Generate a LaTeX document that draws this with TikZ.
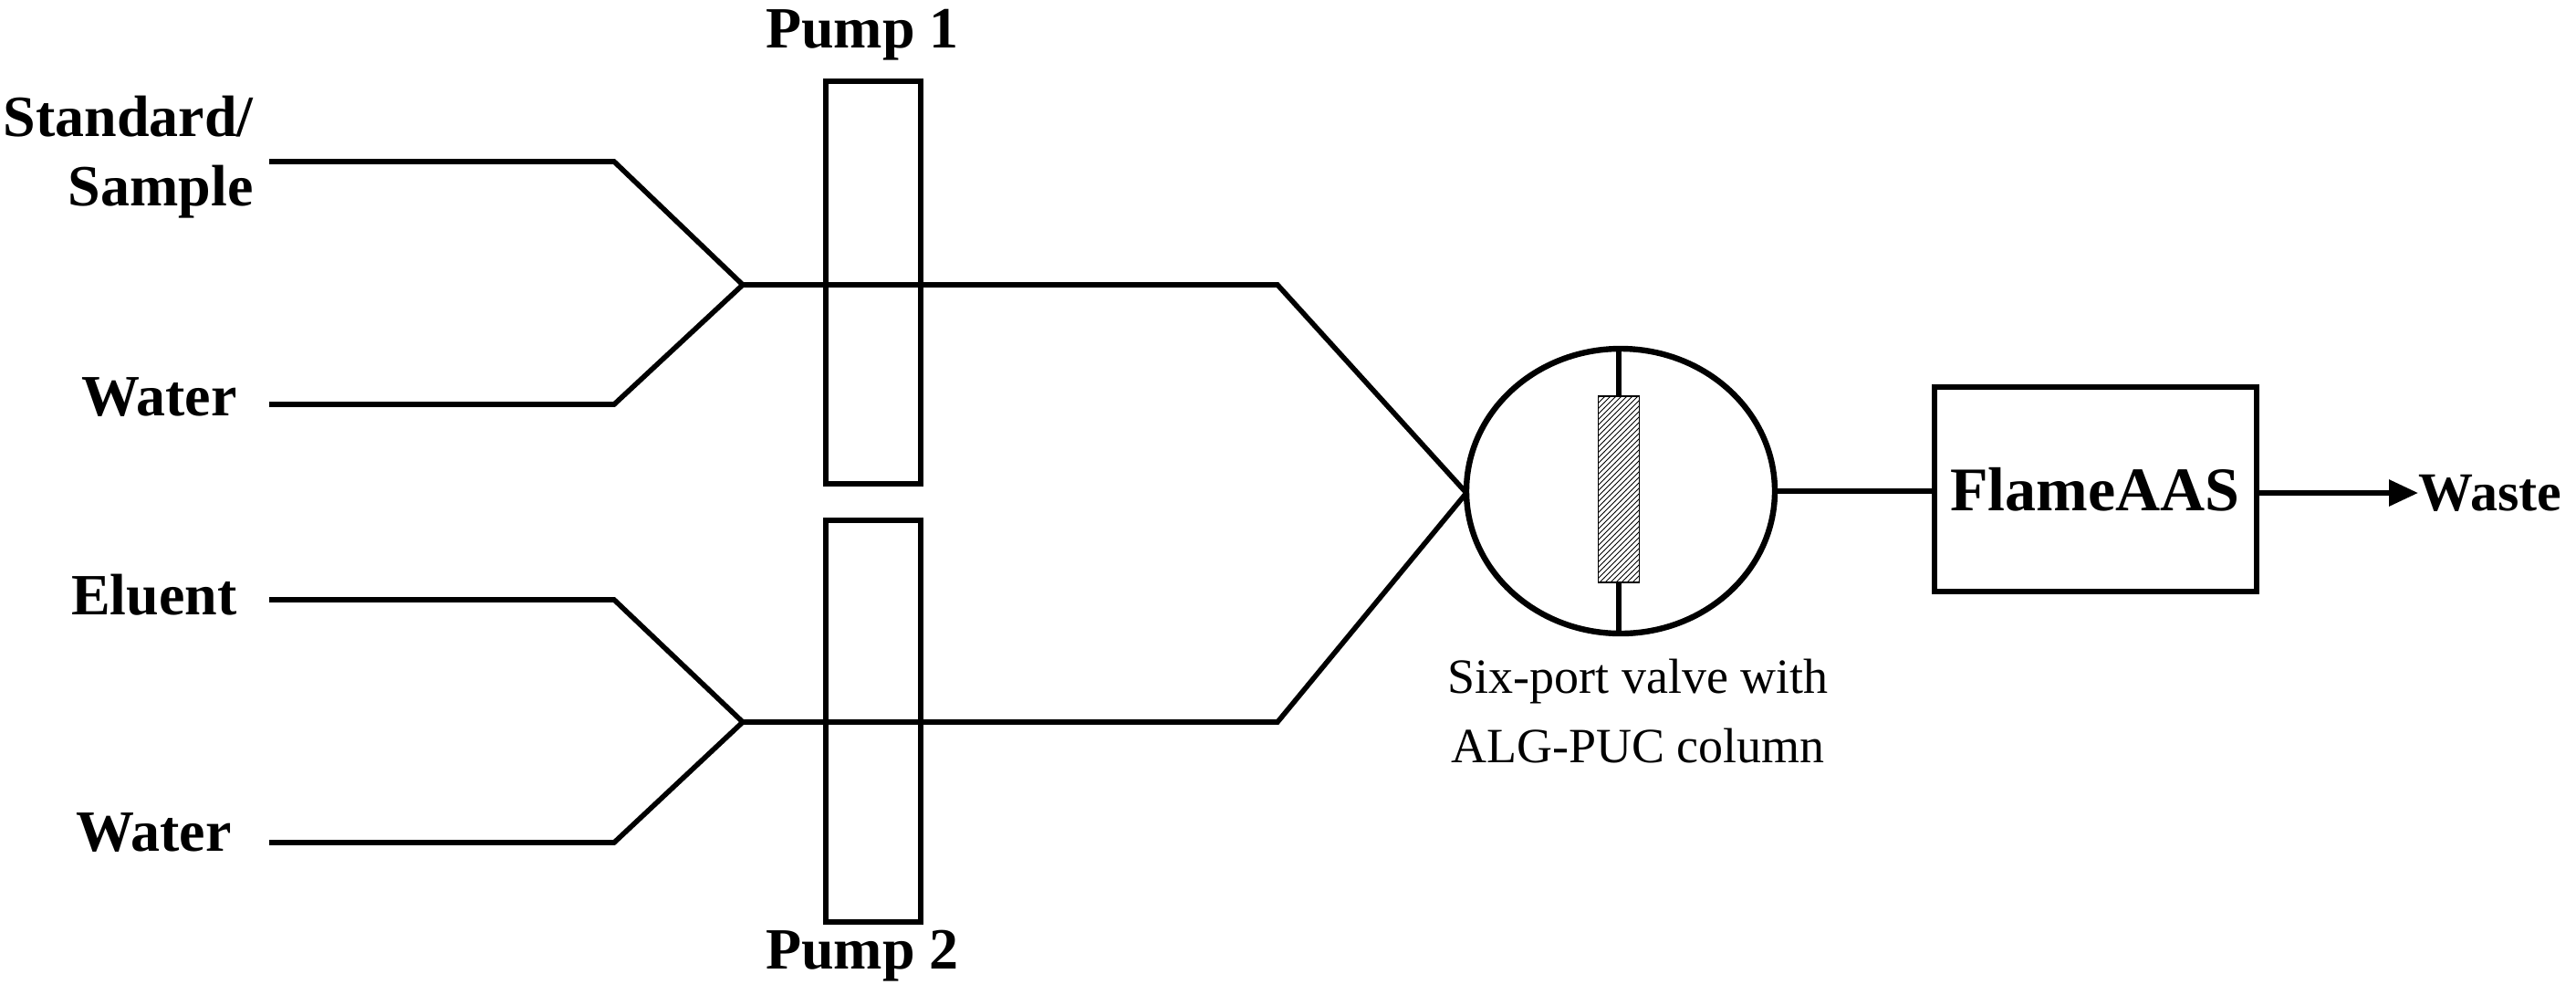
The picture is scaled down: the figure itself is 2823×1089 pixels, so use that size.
\documentclass[tikz,border=0pt]{standalone}
\usepackage{fontspec}
\setmainfont{Liberation Serif}
\usetikzlibrary{shapes.geometric,patterns,arrows.meta}
\begin{document}
\begin{tikzpicture}[x=0.5pt,y=-0.5pt,
  ln/.style={line width=2.8pt},
  lbl/.style={font=\fontsize{32}{38}\selectfont\bfseries,inner sep=0pt},
  sm/.style={font=\fontsize{27}{32}\selectfont,inner sep=0pt,align=center}]
\useasboundingbox (0,0) rectangle (2823,1089);
% labels
\node[lbl,align=right,anchor=east] (std) at (278,172) {Standard/\\Sample};
\node[lbl,anchor=east] (w1) at (260,435) {Water};
\node[lbl,anchor=east] (el) at (260,652) {Eluent};
\node[lbl,anchor=east] (w2) at (254,912) {Water};
\coordinate (a1) at (295,177); \coordinate (b1) at (673,177);
\coordinate (a2) at (295,443); \coordinate (b2) at (673,443);
\coordinate (j1) at (814,312);
\coordinate (a3) at (295,657); \coordinate (b3) at (673,657);
\coordinate (a4) at (295,923); \coordinate (b4) at (673,923);
\coordinate (j2) at (814,791);
\coordinate (k1) at (1400,312); \coordinate (k2) at (1400,791);
\coordinate (v) at (1607,540);
\draw[ln] (a1)--(b1)--(j1)--(k1)--(v);
\draw[ln] (a2)--(b2)--(j1);
\draw[ln] (a3)--(b3)--(j2)--(k2)--(v);
\draw[ln] (a4)--(b4)--(j2);
% pumps
\node[draw,line width=2.8pt,minimum width=104*0.5pt,minimum height=441*0.5pt,inner sep=0pt] (p1) at (957,309.5) {};
\node[draw,line width=2.8pt,minimum width=104*0.5pt,minimum height=440*0.5pt,inner sep=0pt] (p2) at (957,790) {};
\node[lbl] (p1l) at (945,38) {Pump 1};
\node[lbl] (p2l) at (945,1047) {Pump 2};
% valve
\node[draw,ellipse,line width=3.2pt,minimum width=338*0.5pt,minimum height=312*0.5pt,inner sep=0pt] (valve) at (1776,538) {};
\node[draw,line width=0.6pt,pattern=north east lines,minimum width=45*0.5pt,minimum height=204*0.5pt,inner sep=0pt] (col) at (1774,536) {};
\draw[ln] (col.north) -- (col.north |- valve.north);
\draw[ln] (col.south) -- (col.south |- valve.south);
\node[sm,anchor=north] (vl) at (1795,722) {Six-port valve with\\[6pt]ALG-PUC column};
% flame
\node[draw,line width=3pt,minimum width=353*0.5pt,minimum height=224*0.5pt,inner sep=0pt,font=\fontsize{34}{40}\selectfont\bfseries] (aas) at (2296,536) {FlameAAS};
\draw[line width=3.2pt] (valve.east) -- (aas.west |- valve.east);
\node[lbl,anchor=west,font=\fontsize{30}{36}\selectfont\bfseries] (waste) at (2650,540) {Waste};
\draw[line width=3pt,-{Triangle[length=16pt,width=14pt]}] (aas.east |- waste) -- (waste.west);
\end{tikzpicture}
\end{document}
